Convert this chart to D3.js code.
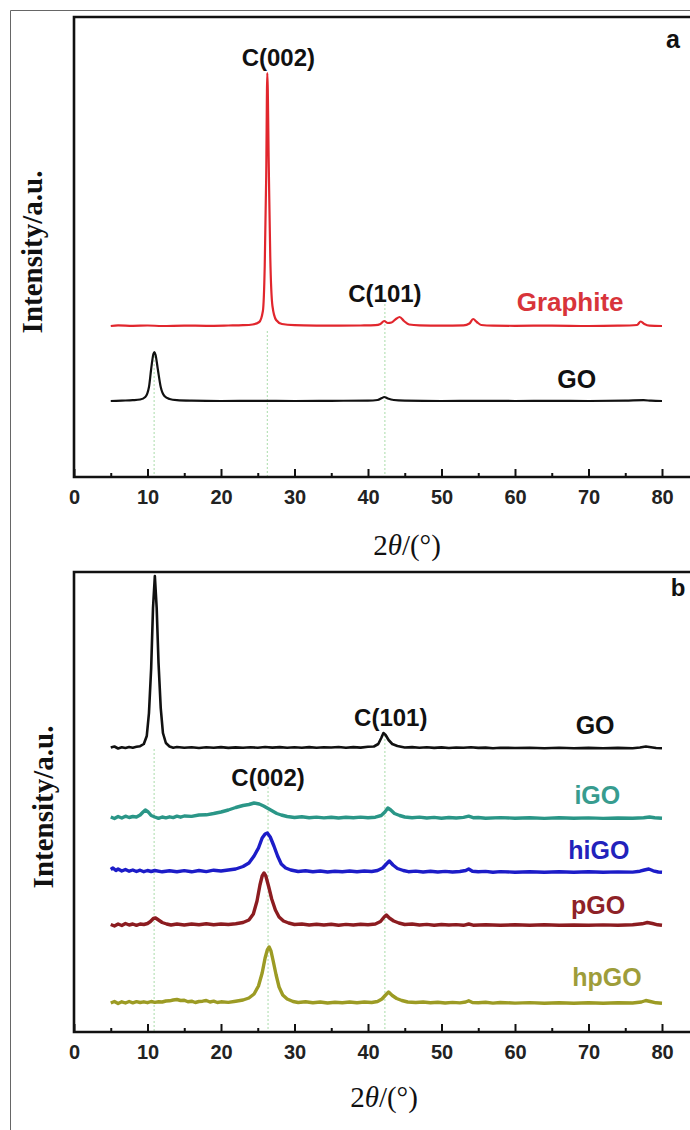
<!DOCTYPE html>
<html>
<head>
<meta charset="utf-8">
<script src="https://cdn.jsdelivr.net/npm/d3@7"></script>
<style>
  body { margin: 0; background: #fff; }
  svg { display: block; }
</style>
</head>
<body>
<div id="chart"></div>
<script>
// XRD patterns, [2theta, intensity above own baseline]
var graphiteA = [[5,0],[6,0.6],[8,0.2],[10,0.5],[12,0],[15,0.4],[18,0.2],[21,0.5],[23,0.8],[24.3,1.5],[25.2,4],[25.7,15],[25.95,60],[26.15,150],[26.3,253],[26.5,160],[26.7,70],[27.0,20],[27.5,6],[28.3,2],[30,0.8],[33,0.4],[36,0.3],[39,0.5],[41,0.8],[41.7,2],[42.2,5],[42.7,3],[43.2,3.5],[43.8,7],[44.3,9],[44.9,5],[45.6,1.5],[47,0.6],[50,0.3],[53,0.6],[53.8,2.5],[54.3,7],[54.8,4],[55.4,1],[57,0.3],[60,0.2],[65,0.4],[70,0],[74,0.3],[76.6,1],[77.1,4.5],[77.6,2],[78.3,0.3],[80,0]];
var goA = [[5,0],[6.5,0.4],[8,0.8],[9,1.5],[9.7,4],[10.2,14],[10.5,32],[10.8,47],[10.95,49],[11.1,46],[11.4,32],[11.8,14],[12.3,5],[13,2],[14,0.8],[16,0.3],[20,0],[25,0.2],[30,0],[35,0.2],[40,0.4],[41.3,1],[41.9,3],[42.2,4],[42.7,2.5],[43.5,1],[45,0.4],[50,0],[55,0.2],[60,0],[65,0.2],[70,0],[75,0.3],[77.5,0.8],[78.5,0.3],[80,0]];

var goB = [[5,0.5],[5.5,1.5],[6,-0.5],[6.5,0.8],[7,0],[7.5,1],[8,0.3],[8.5,1.2],[9,1.8],[9.5,4],[9.9,12],[10.2,35],[10.5,80],[10.75,140],[11.0,172],[11.25,140],[11.5,85],[11.8,40],[12.1,15],[12.5,5],[13,1.5],[13.5,0.3],[14,1],[15,0.2],[16,0.8],[17,0],[18,0.7],[19,0.2],[20,0.9],[21,0.1],[22,0.6],[23,0.3],[24,0.8],[25,0.2],[26,1],[27,0.4],[28,0.9],[29,0.2],[30,0.7],[31,0.3],[32,0.9],[33,0.2],[34,0.8],[35,0.5],[36,1],[37,0.3],[38,0.9],[39,0.4],[40,1.2],[40.8,1.5],[41.4,4],[41.8,10],[42.1,15],[42.4,13],[42.8,8],[43.3,4],[44,2],[45,0.5],[46,0.9],[47,0.2],[48,0.7],[49,0.1],[50,0.6],[51,0],[52,0.5],[53,0.2],[54,0.8],[55,0.1],[56,0.4],[57,-0.2],[58,0.3],[60,0],[62,0.3],[64,-0.2],[66,0.2],[68,-0.3],[70,0.1],[72,-0.3],[74,0.1],[76,-0.2],[77,0.5],[77.8,1.5],[78.5,0.8],[79.2,0],[80,-0.3]];
var iGO = [[5,1],[5.5,-0.5],[6,1.5],[6.5,0],[7,1.8],[7.5,0.5],[8,1.5],[8.5,1],[9,3],[9.4,6],[9.7,8],[10.1,6],[10.5,2.5],[11,1],[11.5,-0.3],[12,1],[12.5,0.2],[13,1.2],[13.5,0.4],[14,1.8],[14.5,0.8],[15,2],[16,1.6],[17,3],[18,3.2],[19,4.5],[20,6],[21,8],[22,10.5],[23,12.5],[23.8,13.5],[24.5,15],[25.2,14],[25.8,12],[26.4,9.5],[27,7],[27.6,4.5],[28.2,3],[29,1.5],[30,0.5],[31,1.2],[32,0.3],[33,0.9],[34,0.1],[35,0.8],[36,0],[37,0.7],[38,0.2],[39,0.9],[40,0.3],[41,0.8],[41.8,2.5],[42.3,6],[42.7,10],[43.1,8],[43.6,4.5],[44.3,2.5],[45,1],[46,0.3],[47,0.9],[48,0],[49,0.6],[50,-0.2],[51,0.5],[52,0],[53,0.6],[53.7,1.8],[54.3,0.3],[55,0.5],[56,-0.3],[58,0.4],[60,-0.2],[62,0.3],[64,-0.4],[66,0.2],[68,-0.3],[70,0.1],[72,-0.4],[74,0],[76,-0.3],[77.5,0.3],[78.3,1],[79,0.2],[80,-0.2]];
var hiGO = [[5,2.5],[5.3,4],[5.7,1.5],[6,3],[6.5,1],[7,2.5],[7.5,0.8],[8,2],[8.5,0.5],[9,1.8],[9.5,0.3],[10,1.5],[10.5,0.5],[11,1.5],[12,0.2],[13,1.2],[14,0.3],[15,1.4],[16,0.2],[17,1.5],[18,0.4],[19,1.8],[20,1],[21,2],[22,3],[23,5.5],[23.8,9],[24.5,16],[25.1,24],[25.6,34],[26.0,38],[26.3,39],[26.7,35],[27.2,26],[27.7,16],[28.2,8],[28.8,4],[29.5,2],[30.5,0.5],[31.5,1.2],[32.5,0.3],[33.5,1],[34.5,0],[35.5,0.8],[36.5,0.2],[37.5,1],[38.5,0.3],[39.5,1],[40.5,0.5],[41.3,1.5],[42,4],[42.5,8],[42.9,11],[43.4,7],[44,3.5],[44.8,1.5],[45.5,0.3],[46.5,0.9],[47.5,0],[48.5,0.7],[49.5,0],[50.5,0.6],[51.5,0],[52.5,0.5],[53.3,1.5],[53.7,3],[54.2,0.8],[55,0.2],[56,0.6],[57,-0.2],[58,0.4],[60,-0.2],[62,0.3],[64,-0.3],[66,0.3],[68,-0.2],[70,0.2],[72,-0.3],[74,0.1],[76,-0.1],[77,0.8],[77.6,2],[78.2,3],[78.8,1.2],[79.5,0],[80,-0.3]];
var pGO = [[5,0.5],[5.5,-1],[6,1],[6.5,-0.5],[7,1.5],[7.5,0],[8,1],[8.5,-0.3],[9,1],[9.5,0.5],[10,1.5],[10.4,3.5],[10.8,6.5],[11.1,7],[11.5,5],[12,2.5],[12.6,1],[13.2,0],[14,1],[15,0],[16,1],[17,0.2],[18,1.2],[19,0.2],[20,1],[21,0.5],[22,1.3],[23,2.5],[23.8,5],[24.4,11],[24.9,24],[25.3,40],[25.6,49],[25.85,52],[26.1,49],[26.5,38],[26.9,26],[27.4,15],[27.9,8],[28.5,4],[29.2,2],[30,0.5],[31,1],[32,0],[33,0.8],[34,0],[35,0.7],[36,-0.2],[37,0.6],[38,0],[39,0.8],[40,0.3],[41,1],[41.7,3.5],[42.2,8],[42.5,10],[42.9,7],[43.5,4],[44.2,2],[45,0.5],[46,1],[47,0],[48,0.6],[49,-0.2],[50,0.5],[51,0],[52,0.4],[53,-0.3],[53.7,1],[54.3,-0.2],[56,0.3],[58,-0.3],[60,0.2],[62,-0.3],[64,0.2],[66,-0.3],[68,0],[70,-0.3],[72,0.1],[74,-0.2],[76,0.2],[77.3,1.2],[78,2.5],[78.7,1.5],[79.4,0.2],[80,-0.3]];
var hpGO = [[5,0],[5.5,1.5],[6,-0.5],[6.5,1.2],[7,0],[7.5,1.5],[8,0.2],[8.5,1.3],[9,0.5],[9.5,1.2],[10,0.3],[10.5,1.5],[11,0.6],[11.5,1.2],[12,1],[12.5,2],[13,2.2],[13.5,3],[14,3.5],[14.5,2.5],[15,2.8],[15.5,1.2],[16,1.8],[16.5,0.5],[17,1.5],[17.5,1.8],[18,2.5],[18.5,1],[19,1.8],[19.5,0.5],[20,1.2],[21,0.6],[22,1.8],[23,3],[23.8,5],[24.5,9],[25.1,17],[25.6,30],[26.0,45],[26.3,53],[26.55,56],[26.8,52],[27.1,42],[27.5,28],[27.9,16],[28.4,8],[29,4],[29.8,1.5],[30.5,0.5],[31.5,1.2],[32.5,0.2],[33.5,1],[34.5,0],[35.5,0.8],[36.5,0.2],[37.5,1],[38.5,0.3],[39.5,1],[40.5,0.5],[41.3,1.5],[41.9,4],[42.4,8],[42.8,11],[43.3,7.5],[43.9,4.5],[44.6,2.5],[45.4,1],[46.5,0.5],[47.5,1],[48.5,0.2],[49.5,0.8],[50.5,0],[51.5,0.6],[52.5,0.1],[53.3,1],[53.7,2.2],[54.2,0.5],[55,0.3],[56,0.8],[57,-0.1],[58,0.5],[60,-0.1],[62,0.4],[64,-0.2],[66,0.3],[68,-0.2],[70,0.2],[72,-0.2],[74,0.2],[76,0],[77.2,1],[77.8,2.5],[78.4,1.5],[79.2,0.2],[80,-0.2]];

// vertical stacking offsets (a.u.)
var namesA = ["Graphite", "GO"];
var offsetsA = [151, 76];
var namesB = ["GO", "iGO", "hiGO", "pGO", "hpGO"];
var offsetsB = [284, 214, 160, 107, 29];

// peak guide lines: [2theta, top]
var guidesA = [[10.9, 125], [26.3, 146], [42.3, 173]];
var guidesB = [[10.9, 283], [26.4, 245], [42.3, 297]];

var majorTicks = [0, 10, 20, 30, 40, 50, 60, 70, 80];
var minorTicks = [5, 15, 25, 35, 45, 55, 65, 75];

var W = 690, H = 1130;
var svg = d3.select("#chart").append("svg")
    .attr("width", W)
    .attr("height", H);

// thin outer border of the figure
svg.append("path")
    .attr("d", "M10.5,1130V10.5H690")
    .attr("fill", "none")
    .attr("stroke", "#666")
    .attr("stroke-width", 1);

var x = d3.scaleLinear().domain([0, 80]).range([74, 662]);
var panelH = 460;
var y = d3.scaleLinear().domain([0, 460]).range([panelH, 0]);

var sans = "'Liberation Sans', Arial, sans-serif";
var serif = "'Liberation Serif', 'Times New Roman', serif";

function drawPanel(top, series, guides, ylabX) {
    var g = svg.append("g").attr("transform", "translate(0," + top + ")");

    // dotted green guides
    g.selectAll(".guide")
	.data(guides)
	.enter().append("line")
	.attr("x1", function(d) { return x(d[0]); })
	.attr("x2", function(d) { return x(d[0]); })
	.attr("y1", function(d) { return y(d[1]); })
	.attr("y2", y(0))
	.attr("stroke", "#a9dca9")
	.attr("stroke-width", 1)
	.attr("stroke-dasharray", "2,2");

    series.forEach(function(s) {
	var line = d3.line()
	    .x(function(d) { return x(d[0]); })
	    .y(function(d) { return y(d[1] + s.offset); })
	    .curve(s.curve);
	g.append("path")
	    .datum(s.data)
	    .attr("fill", "none")
	    .attr("stroke", s.color)
	    .attr("stroke-width", s.width)
	    .attr("stroke-linejoin", "round")
	    .attr("d", line);
    });

    // minor and major ticks pointing inwards
    var minor = g.append("g")
	.attr("transform", "translate(0," + panelH + ")")
	.call(d3.axisBottom(x).tickValues(minorTicks).tickSize(-4).tickFormat(""));
    minor.select(".domain").remove();
    minor.selectAll("line").attr("stroke", "#111").attr("stroke-width", 2);

    var major = g.append("g")
	.attr("transform", "translate(0," + panelH + ")")
	.call(d3.axisBottom(x).tickValues(majorTicks).tickSize(-8).tickPadding(13));
    major.select(".domain").remove();
    major.selectAll("line").attr("stroke", "#111").attr("stroke-width", 2);
    major.selectAll("text")
	.attr("font-family", sans)
	.attr("font-weight", "bold")
	.attr("font-size", 20)
	.attr("fill", "#222");

    // frame (right side runs off the picture)
    g.append("path")
	.attr("d", "M" + x(84.6) + "," + y(0) + "H" + x(0) + "V" + y(460) + "H" + x(84.6))
	.attr("fill", "none")
	.attr("stroke", "#111")
	.attr("stroke-width", 2.6);

    g.append("text")
	.attr("transform", "translate(" + ylabX + "," + (panelH / 2 + 5) + ") rotate(-90)")
	.attr("text-anchor", "middle")
	.attr("dominant-baseline", "central")
	.attr("font-family", serif)
	.attr("font-weight", "bold")
	.attr("font-size", 29)
	.attr("fill", "#111")
	.text("Intensity/a.u.");

    return g;
}

function label(g, txt, xv, yv, size, color) {
    g.append("text")
	.attr("x", x(xv))
	.attr("y", y(yv))
	.attr("text-anchor", "middle")
	.attr("dominant-baseline", "central")
	.attr("font-family", sans)
	.attr("font-weight", "bold")
	.attr("font-size", size)
	.attr("fill", color)
	.text(txt);
}

function xTitle(cx, cy) {
    var t = svg.append("text")
	.attr("x", cx)
	.attr("y", cy)
	.attr("text-anchor", "middle")
	.attr("dominant-baseline", "central")
	.attr("font-family", serif)
	.attr("font-size", 29)
	.attr("fill", "#111");
    t.append("tspan").text("2");
    t.append("tspan").attr("font-style", "italic").text("θ");
    t.append("tspan").text("/(°)");
}

// panel a
var colorsA = ["#e1262d", "#111"];
var gA = drawPanel(17, [
    { data: graphiteA, offset: offsetsA[0], color: colorsA[0], width: 2.2, curve: d3.curveMonotoneX },
    { data: goA, offset: offsetsA[1], color: colorsA[1], width: 2.2, curve: d3.curveMonotoneX }
], guidesA, 32);
label(gA, "C(002)", 27.8, 420, 24, "#111");
label(gA, "C(101)", 42.3, 184, 24, "#111");
label(gA, namesA[0], 67.5, 175, 26, "#d8343a");
label(gA, namesA[1], 68.4, 98, 25, "#111");
label(gA, "a", 81.5, 438, 25, "#111");
xTitle(407, 545);

// panel b
var colorsB = ["#111", "#2a9687", "#1c1cc8", "#8c1c20", "#9c9b24"];
var labelColorsB = ["#111", "#379c8f", "#2222bb", "#8e2227", "#9e9d3a"];
var dataB = [goB, iGO, hiGO, pGO, hpGO];
var gB = drawPanel(572, dataB.map(function(d, i) {
    return { data: d, offset: offsetsB[i], color: colorsB[i], width: i === 0 ? 2.6 : 3.4, curve: d3.curveLinear };
}), guidesB, 43);
label(gB, "C(101)", 43.1, 315, 24, "#111");
label(gB, "C(002)", 26.4, 255, 24, "#111");
var labelYB = [307, 237, 182, 127, 55];
var labelXB = [70.9, 71.2, 71.4, 71.3, 72.5];
namesB.forEach(function(n, i) {
    label(gB, n, labelXB[i], labelYB[i], 25, labelColorsB[i]);
});
label(gB, "b", 82.2, 445, 24, "#111");
xTitle(384, 1097);
</script>
</body>
</html>
